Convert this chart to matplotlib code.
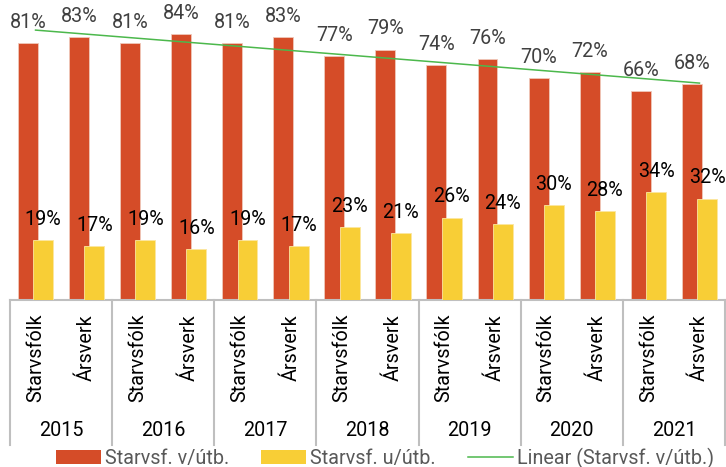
import numpy as np
import matplotlib.pyplot as plt
from matplotlib.lines import Line2D
from matplotlib.patches import Patch

plt.rcParams['font.family'] = ['Roboto', 'DejaVu Sans']

years = ['2015', '2016', '2017', '2018', '2019', '2020', '2021']
categories = ['Starvsfólk', 'Ársverk'] * len(years)
v_utb = [81, 83, 81, 84, 81, 83, 77, 79, 74, 76, 70, 72, 66, 68]
u_utb = [19, 17, 19, 16, 19, 17, 23, 21, 26, 24, 30, 28, 34, 32]

red = '#D54C28'
yellow = '#F8CE36'
green = '#4CB84C'

W, H = 726, 467
fig = plt.figure(figsize=(W / 100, H / 100), dpi=100)
ax = fig.add_axes([10 / W, (H - 300) / H, 715 / W, 300 / H])

x = np.arange(len(categories))
bw = 0.39
off = 0.15
ax.bar(x - off, v_utb, bw, color=red, edgecolor='#F0C8BA', linewidth=0.6, zorder=2)
ax.bar(x + off, u_utb, bw, color=yellow, edgecolor='#FBE6A0', linewidth=0.6, zorder=3)

# trendline for the red series
k, m = np.polyfit(x, v_utb, 1)
ax.plot(x, k * x + m, color=green, lw=1.1, zorder=4)

fs = 14.2
for xi, v in zip(x, v_utb):
    ax.annotate(f'{v}%', (xi - off, v), xytext=(0, 8), textcoords='offset points',
                ha='center', va='bottom', fontsize=fs, color='#404040', zorder=5)
for xi, v in zip(x, u_utb):
    ax.annotate(f'{v}%', (xi + off, v), xytext=(0, 8), textcoords='offset points',
                ha='center', va='bottom', fontsize=fs, color='#000000', zorder=5)

ax.set_xlim(-0.5, len(categories) - 0.5)
ax.set_ylim(0, 300 / 3.17)
ax.set_yticks([])
ax.set_xticks(x)
ax.set_xticklabels(categories, rotation=90, fontsize=fs, color='#000000')
ax.tick_params(axis='x', length=0, pad=10)

for s in ['top', 'left', 'right']:
    ax.spines[s].set_visible(False)
ax.spines['bottom'].set_color('#BFBFBF')
ax.spines['bottom'].set_linewidth(1.5)

# year separators and labels below the axis
trans = ax.get_xaxis_transform()
sep_bottom = -(445 - 300) / 300
for b in np.arange(-0.5, len(categories), 2):
    ax.add_line(Line2D([b, b], [0, sep_bottom], transform=trans, color='#BFBFBF',
                       lw=1.5, clip_on=False))
for i, yr in enumerate(years):
    ax.text(2 * i + 0.5, -(430 - 300) / 300, yr, transform=trans, ha='center', va='center',
            fontsize=fs, color='#000000')

handles = [Patch(facecolor=red, edgecolor='none'),
           Patch(facecolor=yellow, edgecolor='none'),
           Line2D([0], [0], color=green, lw=1.1)]
labels = ['Starvsf. v/útb.', 'Starvsf. u/útb.', 'Linear (Starvsf. v/útb.)']
fig.legend(handles, labels, loc='center', bbox_to_anchor=(385 / W, 1 - 458 / H), ncol=3,
           frameon=False, fontsize=fs, labelcolor='#595959', handlelength=2.3,
           handleheight=0.75, handletextpad=0.2, columnspacing=1.6, borderpad=0)

fig.savefig('out.png', dpi=100)
